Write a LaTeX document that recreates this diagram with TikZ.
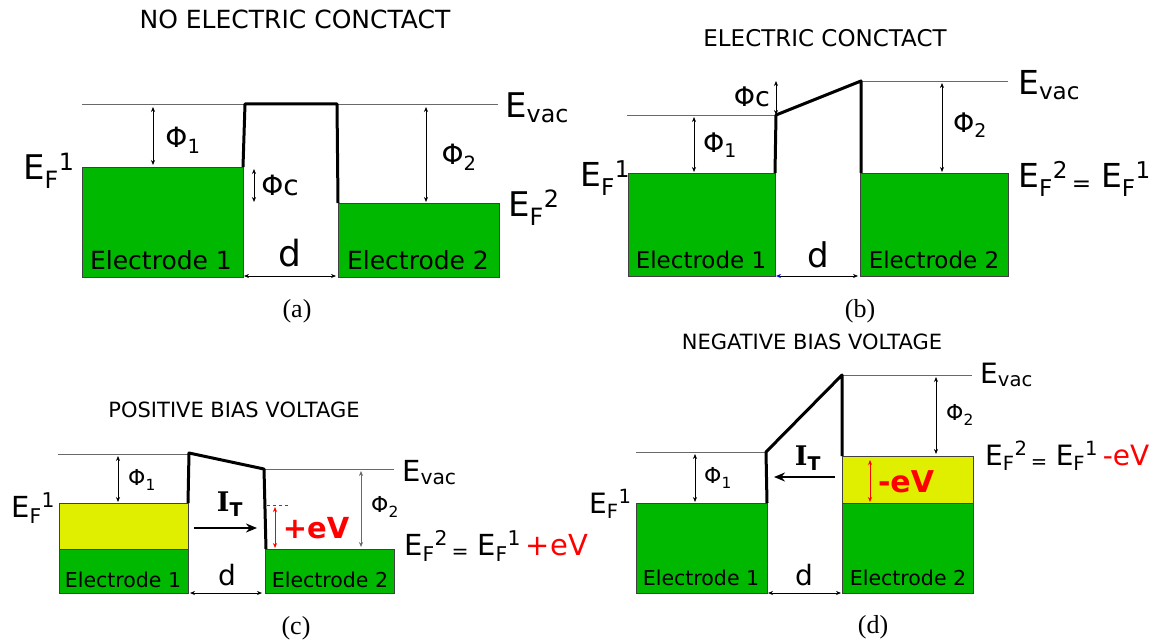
\documentclass[tikz,border=0pt]{standalone}
\usepackage{fontspec}
\setmainfont{DejaVu Sans}
\newfontfamily\capfont{Liberation Serif}
\newfontfamily\serfont{DejaVu Serif}
\usetikzlibrary{arrows.meta}
\definecolor{elgreen}{RGB}{0,184,0}
\definecolor{elyellow}{RGB}{224,238,0}
\definecolor{vacgray}{RGB}{105,105,105}
\newcommand{\fsz}[1]{\fontsize{#1}{#1}\selectfont}
\newcommand{\Ef}[1]{E\textsubscript{F}\textsuperscript{#1}}
\newcommand{\Evac}{E\textsubscript{vac}}
\newcommand{\Itun}{{\serfont\bfseries I}\textsubscript{\bfseries T}}

\begin{document}
\begin{tikzpicture}[x=1pt,y=-1pt,>={Stealth[length=5pt,width=4pt]},
    vac/.style={draw=vacgray,line width=1pt},
    electrode/.style={draw=black!75,line width=0.8pt},
    barrier/.style={line width=3pt,line join=round},
    gap/.style={<->,line width=0.7pt},
    current/.style={->,line width=2pt,>={Stealth[length=11pt,width=9pt]}},
    lbl/.style={inner sep=0pt},
    energy/.style={inner sep=0pt,anchor=base west},
    head/.style={inner sep=0pt,anchor=base},
    panel/.style={inner sep=0pt,font=\capfont\fsz{26}}]
  \useasboundingbox (0,0) rectangle (1167,644);

  % (a) no electric contact
  \node[head,font=\fsz{25}] (ta) at (295,29) {NO ELECTRIC CONCTACT};
  \draw[vac] (82,105) -- (498,105);
  \filldraw[electrode,fill=elgreen] (82,167) rectangle (243,277);
  \filldraw[electrode,fill=elgreen] (338,203) rectangle (499,277);
  \draw[barrier] (243,167) -- (245,104) -- (337,104) -- (338,203);
  \draw[gap] (153,107) -- (153,165);
  \draw[gap] (254,169) -- (254,202);
  \draw[gap] (426,107) -- (426,202);
  \draw[gap] (244,276) -- (336,276);
  \node[lbl,font=\fsz{28}] (phia1) at (183,140) {Φ\textsubscript{1}};
  \node[lbl,font=\fsz{28}] (phica) at (280,185) {Φc};
  \node[lbl,font=\fsz{28}] (phia2) at (459,157) {Φ\textsubscript{2}};
  \node[lbl,font=\fsz{36}] (da) at (290,253) {d};
  \node[lbl,font=\fsz{25}] (ela1) at (161,260) {Electrode 1};
  \node[lbl,font=\fsz{25}] (ela2) at (418,260) {Electrode 2};
  \node[energy,font=\fsz{34}] (evaca) at (505,118) {\Evac};
  \node[energy,font=\fsz{34}] (efa1) at (23,180) {\Ef{1}};
  \node[energy,font=\fsz{34}] (efa2) at (508,217) {\Ef{2}};
  \node[panel] (capa) at (297,311) {(a)};

  % (b) electric contact
  \node[head,font=\fsz{23}] (tb) at (825,47) {ELECTRIC CONCTACT};
  \draw[vac] (627,116) -- (776,116);
  \draw[vac] (860,82) -- (1008,82);
  \filldraw[electrode,fill=elgreen] (628,173) rectangle (775,276);
  \filldraw[electrode,fill=elgreen] (860,173) rectangle (1008,276);
  \draw[barrier] (775,173) -- (776,115) -- (861,81) -- (861,173);
  \draw[gap] (776,115) -- (776,81);
  \draw[gap] (694,117) -- (694,172);
  \draw[gap] (942,83) -- (942,172);
  \draw[line width=0.7pt,{Stealth[length=5pt,width=4pt,blue]}->] (776,276) -- (858,276);
  \node[lbl,font=\fsz{27}] (phicb) at (752,97) {Φc};
  \node[lbl,font=\fsz{27}] (phib1) at (720,145) {Φ\textsubscript{1}};
  \node[lbl,font=\fsz{27}] (phib2) at (970,125) {Φ\textsubscript{2}};
  \node[lbl,font=\fsz{34}] (db) at (818,255) {d};
  \node[lbl,font=\fsz{23}] (elb1) at (701,260) {Electrode 1};
  \node[lbl,font=\fsz{23}] (elb2) at (934,260) {Electrode 2};
  \node[energy,font=\fsz{33}] (evacb) at (1018,95) {\Evac};
  \node[energy,font=\fsz{33}] (efb1) at (580,187) {\Ef{1}};
  \node[energy,font=\fsz{33}] (efb2) at (1018,188) {\Ef{2}\textsubscript{\,=\,}\,\Ef{1}};
  \node[panel] (capb) at (860,311) {(b)};

  % (c) positive bias voltage
  \node[head,font=\fsz{21}] (tc) at (234,417) {POSITIVE BIAS VOLTAGE};
  \draw[vac] (58,454) -- (188,454);
  \draw[vac] (264,469) -- (394,469);
  \fill[elyellow] (59,503) rectangle (188,549);
  \fill[elgreen] (59,549) rectangle (188,593);
  \draw[electrode] (59,503) rectangle (188,593) (59,549) -- (188,549);
  \filldraw[electrode,fill=elgreen] (265,549) rectangle (394,593);
  \draw[barrier] (188,503) -- (189,453) -- (264,469) -- (266,549);
  \draw[gap] (118,456) -- (118,502);
  \draw[gap,draw=vacgray] (361,471) -- (361,547);
  \draw[gap,red] (275,507) -- (275,548);
  \draw[red,dashed,line width=0.7pt] (267,505) -- (289,505);
  \draw[current] (194,528) -- (257,528);
  \draw[gap] (190,593) -- (262,593);
  \node[lbl,font=\fsz{22}] (phic1) at (142,480) {Φ\textsubscript{1}};
  \node[lbl,font=\fsz{22}] (phic2) at (385,507) {Φ\textsubscript{2}};
  \node[lbl,font=\bfseries\fsz{29},text=red] (evc) at (316,528) {+eV};
  \node[lbl,font=\fsz{27}] (itc) at (230,504) {\Itun};
  \node[lbl,font=\fsz{28}] (dc) at (227,575) {d};
  \node[lbl,font=\fsz{20.5}] (elc1) at (123,580) {Electrode 1};
  \node[lbl,font=\fsz{20.5}] (elc2) at (330,580) {Electrode 2};
  \node[energy,font=\fsz{29}] (evacc) at (402,481) {\Evac};
  \node[energy,font=\fsz{29}] (efc1) at (11,517) {\Ef{1}};
  \node[energy,font=\fsz{29}] (efc2) at (404,555) {\Ef{2}\textsubscript{\,=\,}\,\Ef{1}\,\textcolor{red}{+eV}};
  \node[panel] (capc) at (296,628) {(c)};

  % (d) negative bias voltage
  \node[head,font=\fsz{21}] (td) at (812,349) {NEGATIVE BIAS VOLTAGE};
  \draw[vac] (636,452) -- (767,452);
  \draw[vac] (842,375) -- (972,375);
  \filldraw[electrode,fill=elgreen] (636,503) rectangle (767,593);
  \fill[elyellow] (842,456) rectangle (973,503);
  \fill[elgreen] (842,503) rectangle (973,593);
  \draw[electrode] (842,456) rectangle (973,593) (842,503) -- (973,503);
  \draw[barrier] (767,503) -- (766,452) -- (842,375) -- (842,456);
  \draw[gap] (695,454) -- (695,502);
  \draw[gap] (936,377) -- (936,454);
  \draw[gap,red] (870,460) -- (870,502);
  \draw[current] (835,477) -- (774,477);
  \draw[gap] (768,593) -- (841,593);
  \node[lbl,font=\fsz{22}] (phid1) at (718,478) {Φ\textsubscript{1}};
  \node[lbl,font=\fsz{22}] (phid2) at (960,415) {Φ\textsubscript{2}};
  \node[lbl,font=\bfseries\fsz{30},text=red] (evd) at (906,482) {-eV};
  \node[lbl,font=\fsz{27}] (itd) at (808,458) {\Itun};
  \node[lbl,font=\fsz{28}] (dd) at (804,575) {d};
  \node[lbl,font=\fsz{20.5}] (eld1) at (701,578) {Electrode 1};
  \node[lbl,font=\fsz{20.5}] (eld2) at (908,578) {Electrode 2};
  \node[energy,font=\fsz{28}] (evacd) at (980,383) {\Evac};
  \node[energy,font=\fsz{28}] (efd1) at (589,513) {\Ef{1}};
  \node[energy,font=\fsz{28}] (efd2) at (985,465) {\Ef{2}\textsubscript{\,=\,}\,\Ef{1}\,\textcolor{red}{-eV}};
  \node[panel] (capd) at (873,627) {(d)};
\end{tikzpicture}
\end{document}
